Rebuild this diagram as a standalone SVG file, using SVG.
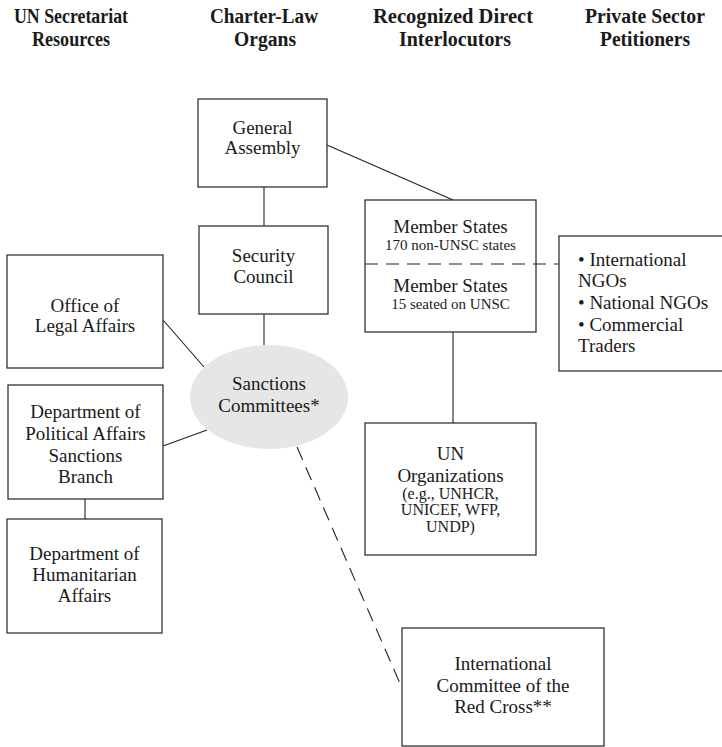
<svg xmlns="http://www.w3.org/2000/svg" width="722" height="747" viewBox="0 0 722 747">
<style>
.box{fill:#fff;stroke:#333;stroke-width:1.3}
.hd{font-family:"Liberation Serif",serif;font-weight:bold;font-size:20px;fill:#1a1a1a;text-anchor:middle}
.t{font-family:"Liberation Serif",serif;font-size:19px;fill:#1a1a1a;text-anchor:middle}
.s{font-family:"Liberation Serif",serif;font-size:15px;fill:#1a1a1a;text-anchor:middle}
.m{font-family:"Liberation Serif",serif;font-size:16px;fill:#1a1a1a;text-anchor:middle}
.l{font-family:"Liberation Serif",serif;font-size:19px;fill:#1a1a1a}
.c{stroke:#222;stroke-width:1.1;fill:none}
.d{stroke:#222;stroke-width:1.1;fill:none;stroke-dasharray:14 8}
</style>
<rect width="722" height="747" fill="#fff"/>
<g id="headers">
<text class="hd" x="71" y="23" textLength="114" lengthAdjust="spacingAndGlyphs">UN Secretariat</text>
<text class="hd" x="71" y="46" textLength="78" lengthAdjust="spacingAndGlyphs">Resources</text>
<text class="hd" x="264" y="23" textLength="108" lengthAdjust="spacingAndGlyphs">Charter-Law</text>
<text class="hd" x="265" y="46" textLength="62" lengthAdjust="spacingAndGlyphs">Organs</text>
<text class="hd" x="453" y="23" textLength="160" lengthAdjust="spacingAndGlyphs">Recognized Direct</text>
<text class="hd" x="455" y="46" textLength="112" lengthAdjust="spacingAndGlyphs">Interlocutors</text>
<text class="hd" x="645" y="23" textLength="120" lengthAdjust="spacingAndGlyphs">Private Sector</text>
<text class="hd" x="645" y="46" textLength="90" lengthAdjust="spacingAndGlyphs">Petitioners</text>
</g>
<g id="connectors">
<line class="c" x1="264" y1="187" x2="264" y2="226"/>
<line class="c" x1="264" y1="314" x2="264" y2="345"/>
<line class="c" x1="327" y1="145" x2="453" y2="200"/>
<line class="c" x1="453" y1="332" x2="453" y2="423"/>
<line class="c" x1="163" y1="320" x2="204" y2="367"/>
<line class="c" x1="163" y1="446" x2="207" y2="430"/>
<line class="c" x1="85" y1="499" x2="85" y2="519"/>
<line class="d" x1="297" y1="447" x2="402" y2="688"/>
</g>
<g id="general-assembly">
<rect class="box" x="198" y="99" width="129" height="88"/>
<text class="t" x="262.5" y="134">General</text>
<text class="t" x="262.5" y="154">Assembly</text>
</g>
<g id="security-council">
<rect class="box" x="199" y="226" width="129" height="88"/>
<text class="t" x="263.5" y="262">Security</text>
<text class="t" x="263.5" y="283">Council</text>
</g>
<g id="member-states">
<rect class="box" x="365" y="200" width="171" height="132"/>
<text class="t" x="450.5" y="233">Member States</text>
<text class="s" x="450.5" y="250">170 non-UNSC states</text>
<line class="d" x1="365" y1="264" x2="559" y2="264" style="stroke-dasharray:13 8"/>
<text class="t" x="450.5" y="292">Member States</text>
<text class="s" x="450.5" y="309">15 seated on UNSC</text>
</g>
<g id="private-sector">
<rect class="box" x="559" y="236" width="170" height="135"/>
<text class="l" x="578" y="266">• International</text>
<text class="l" x="578" y="287">NGOs</text>
<text class="l" x="578" y="309">• National NGOs</text>
<text class="l" x="578" y="331">• Commercial</text>
<text class="l" x="578" y="352">Traders</text>
</g>
<g id="sanctions-committees">
<ellipse cx="269" cy="397" rx="79" ry="52" fill="#e6e6e6"/>
<text class="t" x="269" y="390">Sanctions</text>
<text class="t" x="269" y="412">Committees*</text>
</g>
<g id="office-legal-affairs">
<rect class="box" x="7" y="255" width="156" height="113"/>
<text class="t" x="85" y="312">Office of</text>
<text class="t" x="85" y="332">Legal Affairs</text>
</g>
<g id="dpa">
<rect class="box" x="8" y="385" width="155" height="114"/>
<text class="t" x="85.5" y="418">Department of</text>
<text class="t" x="85.5" y="440">Political Affairs</text>
<text class="t" x="85.5" y="462">Sanctions</text>
<text class="t" x="85.5" y="483">Branch</text>
</g>
<g id="dha">
<rect class="box" x="7" y="519" width="155" height="114"/>
<text class="t" x="84.5" y="560">Department of</text>
<text class="t" x="84.5" y="581">Humanitarian</text>
<text class="t" x="84.5" y="602">Affairs</text>
</g>
<g id="un-organizations">
<rect class="box" x="365" y="423" width="171" height="132"/>
<text class="t" x="450.5" y="460">UN</text>
<text class="t" x="450.5" y="482">Organizations</text>
<text class="m" x="450.5" y="499">(e.g., UNHCR,</text>
<text class="m" x="450.5" y="515">UNICEF, WFP,</text>
<text class="m" x="450.5" y="532">UNDP)</text>
</g>
<g id="icrc">
<rect class="box" x="402" y="628" width="202" height="118"/>
<text class="t" x="503" y="670">International</text>
<text class="t" x="503" y="692">Committee of the</text>
<text class="t" x="503" y="713">Red Cross**</text>
</g>
</svg>
